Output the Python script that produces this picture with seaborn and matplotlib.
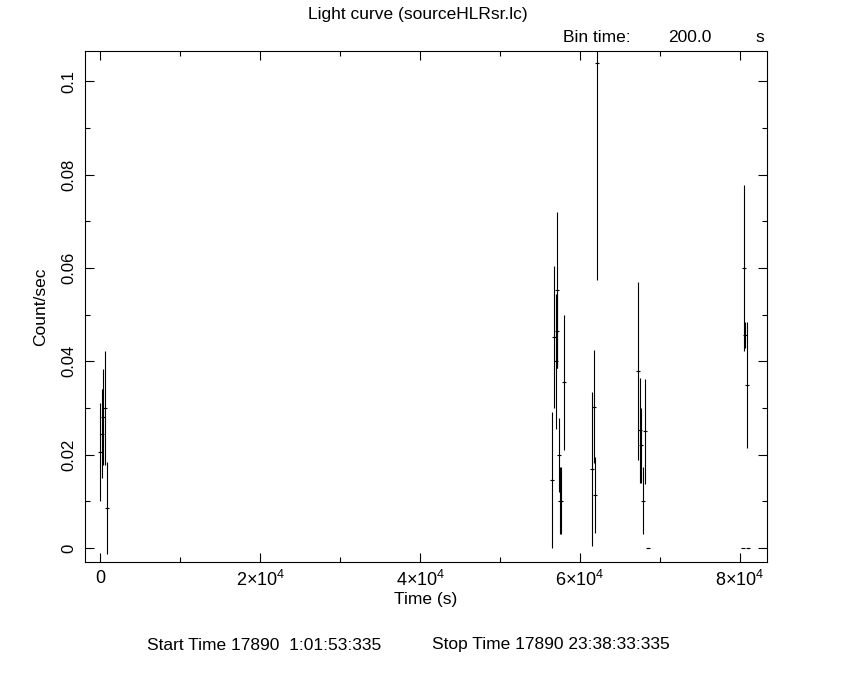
import numpy as np
import pandas as pd
import matplotlib
matplotlib.use('Agg')
import matplotlib.pyplot as plt
import matplotlib.font_manager as fm
from matplotlib.ticker import MultipleLocator, FuncFormatter
import seaborn as sns

# light curve bins (time in s from start, rate in count/sec, 1-sigma error)
time_s = [0, 200, 400, 600, 800,
          56460, 56740, 56925, 57050, 57110, 57340, 57420, 57590, 57960,
          61460, 61740, 61800, 62080,
          67210, 67460, 67590, 67840, 68090, 68500,
          80300, 80500, 80650, 80800, 81000]
rate = [0.0205, 0.0245, 0.028, 0.030, 0.0086,
        0.0146, 0.0452, 0.040, 0.0465, 0.0553, 0.020, 0.0101, 0.0101, 0.0355,
        0.017, 0.0303, 0.0114, 0.1039,
        0.038, 0.0252, 0.022, 0.0101, 0.025, 0.0,
        0.0, 0.060, 0.0457, 0.035, 0.0]
rate_err = [0.0105, 0.0095, 0.0103, 0.0123, 0.0098,
            0.0146, 0.0152, 0.0144, 0.0079, 0.0167, 0.0079, 0.0072, 0.0072, 0.0145,
            0.0165, 0.0121, 0.0081, 0.0465,
            0.0191, 0.0112, 0.0081, 0.0072, 0.0112, 0.0,
            0.0, 0.0178, 0.0028, 0.0135, 0.0]
bin_half = 100

df = pd.DataFrame({'time': time_s, 'rate': rate, 'err': rate_err})

sns.set_style('ticks')
avail = {f.name for f in fm.fontManager.ttflist}
fam = [f for f in ['Liberation Sans', 'DejaVu Sans'] if f in avail]
plt.rcParams['font.family'] = fam
plt.rcParams['mathtext.fontset'] = 'custom'
plt.rcParams['mathtext.rm'] = fam[0]
plt.rcParams['mathtext.it'] = fam[0]
plt.rcParams['axes.linewidth'] = 0.8
for k in ['text.color', 'axes.labelcolor', 'xtick.color', 'ytick.color', 'axes.edgecolor']:
    plt.rcParams[k] = 'black'

fig = plt.figure(figsize=(8.5, 6.8), dpi=100)
ax = fig.add_axes([85 / 850, 1 - 562 / 680, 682 / 850, 511 / 680])

ax.errorbar(df['time'], df['rate'], xerr=bin_half, yerr=df['err'],
            fmt='none', ecolor='black', elinewidth=0.8, capsize=0)
sns.scatterplot(data=df, x='time', y='rate', marker='_', s=12, color='black',
                linewidth=0.8, ax=ax, legend=False)

ax.set_xlim(-1900, 83360)
ax.set_ylim(-0.003, 0.1065)

ax.xaxis.set_major_locator(MultipleLocator(20000))
ax.xaxis.set_minor_locator(MultipleLocator(10000))
ax.yaxis.set_major_locator(MultipleLocator(0.02))
ax.yaxis.set_minor_locator(MultipleLocator(0.01))


def xfmt(v, pos):
    if v == 0:
        return '0'
    return r'$%d{\times}10^4$' % round(v / 1e4)


def yfmt(v, pos):
    if abs(v) < 1e-9:
        return '0'
    if abs(v - 0.1) < 1e-9:
        return '0.1'
    return '%.2f' % v


ax.xaxis.set_major_formatter(FuncFormatter(xfmt))
ax.yaxis.set_major_formatter(FuncFormatter(yfmt))
ax.tick_params(which='both', direction='in', top=True, right=True,
               colors='black', labelsize=12, width=0.8)
ax.tick_params(axis='x', labelsize=13)
ax.tick_params(which='major', length=6.5, pad=6)
ax.tick_params(which='minor', length=3.5)
for lab in ax.get_yticklabels():
    lab.set_rotation(90)
    lab.set_va('center')

ax.set_xlabel('Time (s)', fontsize=12.5, labelpad=1)
ax.set_ylabel('Count/sec', fontsize=12.5, labelpad=10)

fig.text(418 / 850, 1 - 15 / 680, 'Light curve (sourceHLRsr.lc)',
         ha='center', va='center', fontsize=12.5)
fig.text(563 / 850, 1 - 37 / 680, 'Bin time:', ha='left', va='center', fontsize=12.5)
fig.text(668 / 850, 1 - 37 / 680, '200.0', ha='left', va='center', fontsize=12.5)
fig.text(755 / 850, 1 - 37 / 680, 's', ha='left', va='center', fontsize=12.5)
fig.text(147 / 850, 1 - 645 / 680, 'Start Time 17890  1:01:53:335',
         ha='left', va='center', fontsize=12.5)
fig.text(432 / 850, 1 - 645 / 680, 'Stop Time 17890 23:38:33:335',
         ha='left', va='center', fontsize=12.5)

fig.savefig('out.png', dpi=100, facecolor='white')
